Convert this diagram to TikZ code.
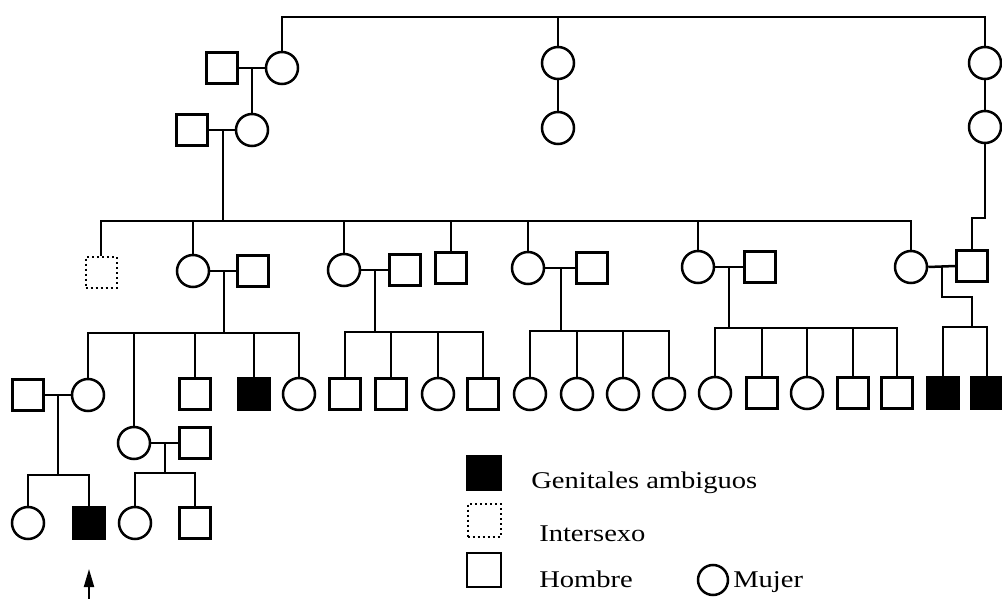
\documentclass[tikz,border=0pt]{standalone}
\usepackage{fontspec}
\setmainfont{Liberation Serif}
\usepackage{graphicx}
\usetikzlibrary{arrows.meta}
\begin{document}
\begin{tikzpicture}[x=1pt,y=-1pt,line width=2.5pt,
  male/.style={draw,rectangle,minimum size=31pt,inner sep=0pt,line width=2.5pt},
  female/.style={draw,circle,minimum size=32pt,inner sep=0pt,line width=2.5pt},
  affected/.style={male,fill=black},
  intersex/.style={male,line width=2pt,dash pattern=on 2pt off 3pt},
  thinline/.style={line width=1.2pt},
  legtext/.style={anchor=base west,inner sep=0pt,font=\fontsize{24}{28}\selectfont}]
\useasboundingbox (0,0) rectangle (1002,599);
\newcommand\wide[1]{\scalebox{1.19}[1]{#1}}

% ---------- generations I and II ----------
\coordinate (top) at (0,17);
\node[female] (a1) at (282,68) {};
\node[male]   (s1) at (222,68) {};
\node[female] (b1) at (252,130) {};
\node[male]   (s2) at (192,130) {};
\node[female] (m1) at (558,63) {};
\node[female] (m2) at (558,128) {};
\node[female] (r1) at (985,63) {};
\node[female] (r2) at (985,127) {};

\draw (a1.north) -- (a1.north |- top) -- (r1.north |- top) -- (r1.north);
\draw (m1.north |- top) -- (m1.north);
\draw (m1.south) -- (m2.north);
\draw (r1.south) -- (r2.north);
\draw (s1.east) -- (a1.west);
\coordinate (u1) at (252,68);
\draw (u1) -- (b1.north);
\draw (s2.east) -- (b1.west);
\coordinate (u2) at (223,130);

% ---------- generation III ----------
\coordinate (sib3) at (0,221);
\node[intersex] (i1)  at (101,272) {};
\node[female]   (c31) at (193,271) {};
\node[male]     (h31) at (253,271) {};
\node[female]   (c32) at (344,270) {};
\node[male]     (h32) at (405,270) {};
\node[male]     (s33) at (451,268) {};
\node[female]   (c34) at (528,268) {};
\node[male]     (h34) at (592,268) {};
\node[female]   (c35) at (698,267) {};
\node[male]     (h35) at (760,267) {};
\node[female]   (c36) at (911,267) {};
\node[male]     (h36) at (972,266) {};

\draw (u2) -- (u2 |- sib3);
\draw (i1.north) -- (i1.north |- sib3) -- (c36.north |- sib3) -- (c36.north);
\foreach \n in {c31,c32,s33,c34,c35}
  \draw (\n.north |- sib3) -- (\n.north);
\draw (r2.south) -- (985,218) -- (h36.north |- 0,218) -- (h36.north);
\draw (c31.east) -- (h31.west);
\draw (c32.east) -- (h32.west);
\draw (c34.east) -- (h34.west);
\draw (c35.east) -- (h35.west);
\draw (c36.east) -- (h36.west);

% ---------- generation IV ----------
\coordinate (d1) at (224,271);
\coordinate (d2) at (375,270);
\coordinate (d3) at (561,268);
\coordinate (d4) at (729,267);
\coordinate (d5) at (942,266);
\coordinate (sib41) at (0,333);
\coordinate (sib42) at (0,332);
\coordinate (sib43) at (0,331);
\coordinate (sib44) at (0,328);
\coordinate (sib45) at (0,327);

% family of c31
\node[female]   (c41) at (88,395) {};
\node[male]     (h41) at (28,395) {};
\node[female]   (c42) at (134,443) {};
\node[male]     (h42) at (195,443) {};
\node[male]     (s43) at (195,394) {};
\node[affected] (p44) at (254,394) {};
\node[female]   (c45) at (299,394) {};
\draw (d1) -- (d1 |- sib41);
\draw (c41.north) -- (c41.north |- sib41) -- (c45.north |- sib41) -- (c45.north);
\draw[thinline] (c42.north |- sib41) -- (c42.north);
\foreach \n in {s43,p44} \draw (\n.north |- sib41) -- (\n.north);

% family of c32
\node[male]   (k1) at (345,394) {};
\node[male]   (k2) at (391,394) {};
\node[female] (k3) at (438,394) {};
\node[male]   (k4) at (483,394) {};
\draw (d2) -- (d2 |- sib42);
\draw (k1.north) -- (k1.north |- sib42) -- (k4.north |- sib42) -- (k4.north);
\foreach \n in {k2,k3} \draw (\n.north |- sib42) -- (\n.north);

% family of c34
\node[female] (l1) at (530,394) {};
\node[female] (l2) at (577,394) {};
\node[female] (l3) at (623,394) {};
\node[female] (l4) at (669,394) {};
\draw (d3) -- (d3 |- sib43);
\draw (l1.north) -- (l1.north |- sib43) -- (l4.north |- sib43) -- (l4.north);
\foreach \n in {l2,l3} \draw (\n.north |- sib43) -- (\n.north);

% family of c35
\node[female] (n1) at (715,393) {};
\node[male]   (n2) at (762,393) {};
\node[female] (n3) at (807,393) {};
\node[male]   (n4) at (853,393) {};
\node[male]   (n5) at (897,393) {};
\draw (d4) -- (d4 |- sib44);
\draw (n1.north) -- (n1.north |- sib44) -- (n5.north |- sib44) -- (n5.north);
\foreach \n in {n2,n3,n4} \draw (\n.north |- sib44) -- (\n.north);

% family of c36
\node[affected] (q1) at (943,393) {};
\node[affected] (q2) at (987,393) {};
\draw (d5) -- (942,297) -- (972,297) -- (972,327);
\draw (q1.north) -- (q1.north |- sib45) -- (q2.north |- sib45) -- (q2.north);

% ---------- generation V ----------
\draw (h41.east) -- (c41.west);
\draw (c42.east) -- (h42.west);
\coordinate (e1) at (58,395);
\coordinate (e2) at (165,443);
\coordinate (sib51) at (0,475);
\coordinate (sib52) at (0,473);
\node[female]   (v1) at (28,523) {};
\node[affected] (v2) at (89,523) {};
\node[female]   (v3) at (135,523) {};
\node[male]     (v4) at (195,523) {};
\draw (e1) -- (e1 |- sib51);
\draw (v1.north) -- (v1.north |- sib51) -- (v2.north |- sib51) -- (v2.north);
\draw (e2) -- (e2 |- sib52);
\draw (v3.north) -- (v3.north |- sib52) -- (v4.north |- sib52) -- (v4.north);

% proband arrow
\coordinate (pa) at (89,599);
\coordinate (pb) at (89,569);
\draw[line width=2pt,-{Triangle[length=18pt,width=10pt]}] (pa) -- (pb);

% ---------- legend ----------
\node[affected,minimum size=34pt] (lg1) at (484,473) {};
\node[intersex,minimum size=33pt] (lg2) at (484,520) {};
\node[male,minimum size=34pt]     (lg3) at (484,570) {};
\node[female,minimum size=30pt]   (lg4) at (713,580) {};
\node[legtext] (t1) at (530,488) {\wide{Genitales ambiguos}};
\node[legtext] (t2) at (538,541) {\wide{Intersexo}};
\node[legtext] (t3) at (538,587) {\wide{Hombre}};
\node[legtext] (t4) at (732,587) {\wide{Mujer}};
\end{tikzpicture}
\end{document}
